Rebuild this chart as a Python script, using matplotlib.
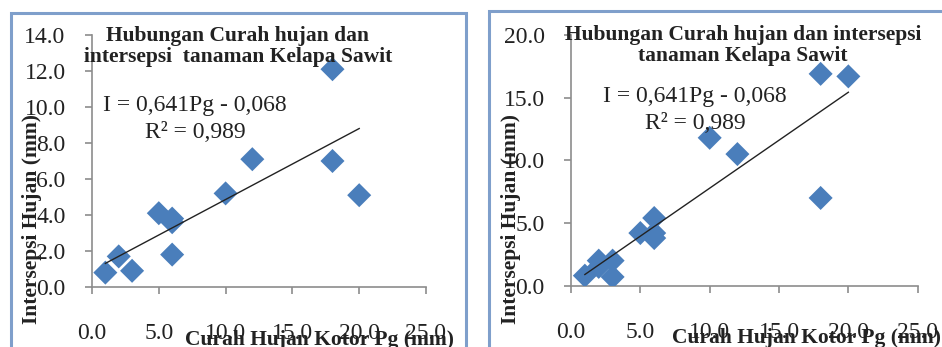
# Hubungan curah hujan dan intersepsi - two scatter panels

import numpy as np
import matplotlib.pyplot as plt
from matplotlib.patches import Rectangle

# Left panel data
pg_left = [1, 2, 3, 5, 6, 6, 6, 10, 12, 18, 18, 20]
ic_left = [0.8, 1.7, 0.9, 4.1, 3.8, 3.6, 1.8, 5.2, 7.1, 12.1, 7.0, 5.1]

# Right panel data
pg_right = [1, 2, 2, 3, 3, 5, 6, 6, 6, 10, 12, 18, 18, 20]
ic_right = [0.8, 1.5, 2.0, 2.0, 0.7, 4.2, 5.4, 4.2, 3.8, 11.8, 10.5, 16.9, 7.0, 16.7]

x_ticks = [0, 5, 10, 15, 20, 25]
y_ticks_left = [0, 2, 4, 6, 8, 10, 12, 14]
y_ticks_right = [0, 5, 10, 15, 20]

title_left = 'Hubungan Curah hujan dan\nintersepsi  tanaman Kelapa Sawit'
title_right = 'Hubungan Curah hujan dan intersepsi\ntanaman Kelapa Sawit'
eq_text = 'I = 0,641Pg - 0,068'
r2_text = 'R² = 0,989'

plt.rcParams['font.family'] = ['Liberation Serif', 'DejaVu Serif']

W, H = 942, 347
fig = plt.figure(figsize=(W / 100, H / 100), dpi=100)


def px_rect(x0, y0, x1, y1):
    # pixel box (top-left origin) -> figure fraction [l, b, w, h]
    return [x0 / W, 1 - y1 / H, (x1 - x0) / W, (y1 - y0) / H]


# Panel borders
for bx0, by0, bx1 in [(11, 13, 466), (489, 11, 960)]:
    fig.add_artist(Rectangle((bx0 / W, -0.1), (bx1 - bx0) / W, 1 - by0 / H + 0.1,
                             transform=fig.transFigure, fill=False,
                             edgecolor='#7f9fcb', linewidth=2.2))

panels = [
    dict(box=px_rect(92, 35, 426, 287), x=pg_left, y=ic_left, yt=y_ticks_left, ymax=14,
         title=title_left, title_xy=(0.437, 0.955), eq_xy=(0.308, 0.722), r2_xy=(0.31, 0.612),
         ylab_xy=(-0.18, 0.27)),
    dict(box=px_rect(571, 35, 917.7, 285.7), x=pg_right, y=ic_right, yt=y_ticks_right, ymax=20,
         title=title_right, title_xy=(0.496, 0.958), eq_xy=(0.358, 0.753), r2_xy=(0.36, 0.646),
         ylab_xy=(-0.173, 0.266)),
]

for p in panels:
    ax = fig.add_axes(p['box'])
    x = np.array(p['x'])
    y = np.array(p['y'])
    ax.scatter(x, y, marker='D', s=150, color='#4a7ebb', edgecolors='none', zorder=3)

    # linear trend line
    m, c = np.polyfit(x, y, 1)
    xs = np.array([x.min(), x.max()])
    ax.plot(xs, m * xs + c, color='#222222', linewidth=1.0, zorder=4)

    ax.set_xlim(0, 25)
    ax.set_ylim(0, p['ymax'])
    ax.set_xticks(x_ticks)
    ax.set_yticks(p['yt'])
    ax.set_xticklabels([f'{v:.1f}' for v in x_ticks])
    ax.set_yticklabels([f'{v:.1f}' for v in p['yt']])
    for side in ['top', 'right']:
        ax.spines[side].set_visible(False)
    for side in ['left', 'bottom']:
        ax.spines[side].set_color('#8c8c8c')
        ax.spines[side].set_linewidth(1.2)
    ax.tick_params(axis='both', colors='#8c8c8c', length=5, width=1.2, labelcolor='#222222',
                   labelsize=17)
    ax.tick_params(axis='x', pad=21)
    ax.tick_params(axis='y', pad=14)
    ax.set_facecolor('none')

    ax.text(p['title_xy'][0], p['title_xy'][1], p['title'], transform=ax.transAxes,
            ha='center', va='center', fontsize=15.5, fontweight='bold', color='#222222',
            linespacing=1.1)
    ax.text(p['eq_xy'][0], p['eq_xy'][1], eq_text, transform=ax.transAxes,
            ha='center', va='center', fontsize=17, color='#222222')
    ax.text(p['r2_xy'][0], p['r2_xy'][1], r2_text, transform=ax.transAxes,
            ha='center', va='center', fontsize=17, color='#222222')

    ax.text(0.68, -0.21, 'Curah Hujan Kotor Pg (mm)', transform=ax.transAxes,
            ha='center', va='center', fontsize=15.5, fontweight='bold', color='#222222')
    ax.text(p['ylab_xy'][0], p['ylab_xy'][1], 'Intersepsi Hujan (mm)', transform=ax.transAxes,
            ha='center', va='center', rotation=90, fontsize=15.5, fontweight='bold',
            color='#222222')

fig.savefig('out.png', dpi=100)
